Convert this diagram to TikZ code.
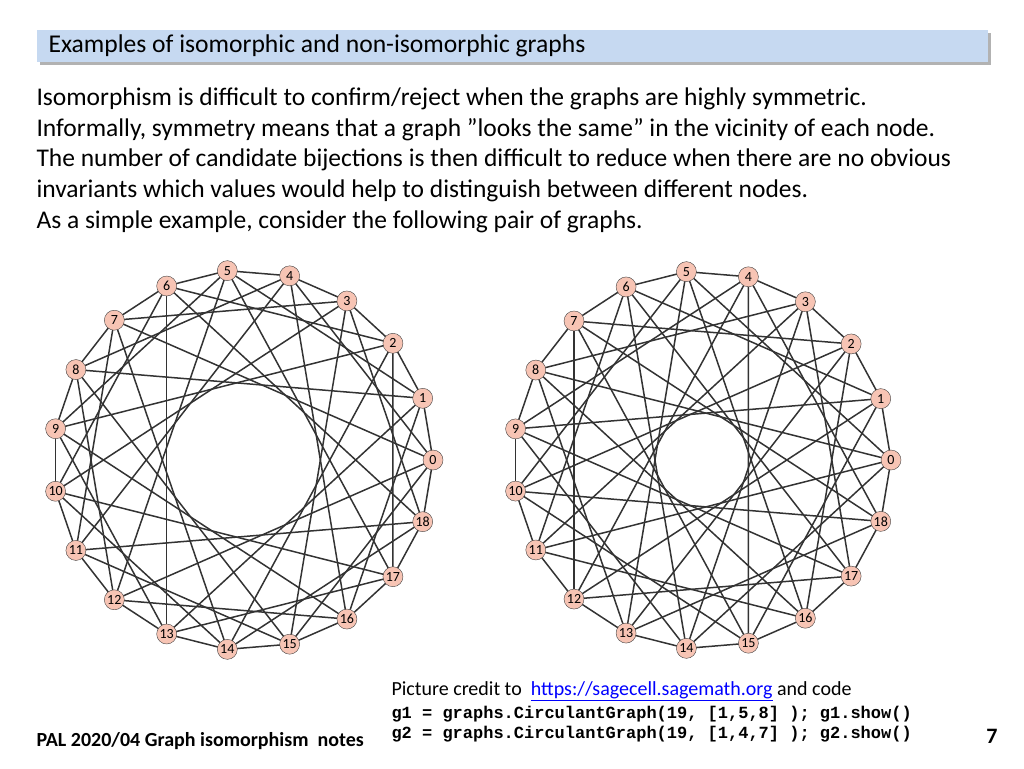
\documentclass[tikz,border=0pt]{standalone}
\usepackage{fontspec}
\setmainfont{Carlito}
\newfontfamily\codefont{Liberation Mono}
\definecolor{barblue}{HTML}{C6D9F1}
\definecolor{vertexfill}{HTML}{F7C4B4}
\definecolor{linkblue}{HTML}{0000FF}
\begin{document}
\begin{tikzpicture}[x=1pt,y=-1pt,
  vertex/.style={circle,draw=black!75,fill=vertexfill,inner sep=0pt,minimum size=20pt,font=\fontsize{14}{14}\selectfont},
  link/.style={black!80,line width=1.5pt},
  para/.style={anchor=west,font=\fontsize{25.5}{25.5}\selectfont}]
\useasboundingbox (0,0) rectangle (1024,768);
% title bar
\fill[black!30] (40,33) rectangle (991,65);
\node (title) [fill=barblue,minimum width=951pt,minimum height=32pt,anchor=north west,inner sep=0pt] at (37,30) {};
\node [anchor=west,font=\fontsize{25.6}{25.6}\selectfont] at (45,46) {Examples of isomorphic and non-isomorphic graphs};
% text
\node [para] at (33,99) {Isomorphism is difficult to confirm/reject when the graphs are highly symmetric.};
\node [para] at (33,130) {Informally, symmetry means that a graph {\char34}looks the same{\char34} in the vicinity of each node.};
\node [para] at (33,160) {The number of candidate bijections is then difficult to reduce when there are no obvious};
\node [para] at (33,191) {invariants which values would help to distinguish between different nodes.};
\node [para] at (33,222) {As a simple example, consider the following pair of graphs.};
% graph g1
\foreach \k in {0,...,18}
  \coordinate (a\k) at ({243+190*cos(360*\k/19)},{460-190*sin(360*\k/19)});
\foreach \k in {0,...,18}{
  \foreach \j in {1,4,7}{
    \pgfmathtruncatemacro{\m}{mod(\k+\j,19)}
    \draw[link] (a\k) -- (a\m);
  }
}
\foreach \k in {0,...,18}
  \node (u\k) [vertex] at (a\k) {\k};
% graph g2
\foreach \k in {0,...,18}
  \coordinate (b\k) at ({702+189*cos(360*\k/19)},{460-189*sin(360*\k/19)});
\foreach \k in {0,...,18}{
  \foreach \j in {1,5,8}{
    \pgfmathtruncatemacro{\m}{mod(\k+\j,19)}
    \draw[link] (b\k) -- (b\m);
  }
}
\foreach \k in {0,...,18}
  \node (v\k) [vertex] at (b\k) {\k};
% footer
\node (credit) [anchor=west,font=\fontsize{20}{20}\selectfont] at (388,691) {Picture credit to \ \textcolor{linkblue}{\underline{https://sagecell.sagemath.org}} and code};
\node [anchor=west,font=\codefont\bfseries\fontsize{17}{17}\selectfont] at (388,714) {g1 = graphs.CirculantGraph(19, [1,5,8] ); g1.show()};
\node [anchor=west,font=\codefont\bfseries\fontsize{17}{17}\selectfont] at (388,734) {g2 = graphs.CirculantGraph(19, [1,4,7] ); g2.show()};
\node [anchor=west,font=\bfseries\fontsize{20}{20}\selectfont] at (33,741) {PAL 2020/04 Graph isomorphism\ \ notes};
\node [font=\bfseries\fontsize{22}{22}\selectfont] at (992,736) {7};
\end{tikzpicture}
\end{document}
